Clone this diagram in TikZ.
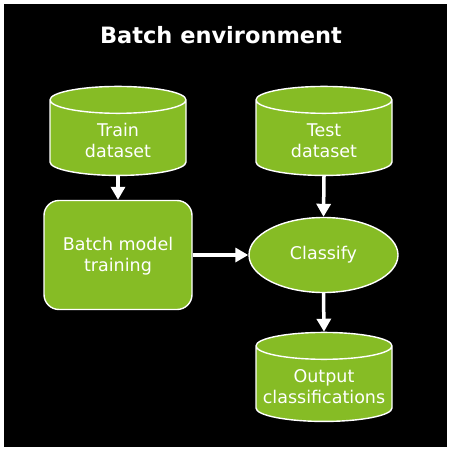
\documentclass[tikz,border=0pt]{standalone}
\usepackage{fontspec}
\setmainfont{DejaVu Sans}
\usetikzlibrary{shapes.geometric,arrows.meta}
\definecolor{batchgreen}{RGB}{134,188,37}
\newcommand\storelabel[1]{\raisebox{-5pt}[\height][\depth]{\begin{tabular}{@{}c@{}}#1\end{tabular}}}
\tikzset{
  store/.style={cylinder, shape border rotate=90, aspect=0.21, draw=white, line width=1.4pt,
    fill=batchgreen, text=white, minimum width=136pt, minimum height=89pt, inner sep=0pt,
    text width=128pt, align=center, font=\fontsize{17.5}{20.5}\selectfont},
  taskbox/.style={rectangle, rounded corners=15pt, draw=white, line width=1.4pt, fill=batchgreen,
    text=white, minimum width=148pt, minimum height=109pt, align=center,
    font=\fontsize{17.5}{20.5}\selectfont},
  taskoval/.style={ellipse, draw=white, line width=1.4pt, fill=batchgreen, text=white,
    minimum width=149pt, minimum height=75pt, inner sep=0pt, font=\fontsize{17.5}{20.5}\selectfont},
  flow/.style={draw=white, line width=3.5pt, -{Triangle[length=13pt, width=14pt]}}
}
\begin{document}
\begin{tikzpicture}[x=1pt, y=1pt]
  \fill[white] (0,0) rectangle (452,-452);
  \fill[black] (4,-4) rectangle (447,-447);
  \useasboundingbox (0,0) rectangle (452,-452);
  \node[text=white, font=\fontsize{22.5}{27}\selectfont\bfseries] (title) at (221,-35) {Batch environment};
  \node[store] (train) at (118,-138) {\storelabel{Train\\dataset}};
  \node[store] (test) at (324,-138) {\storelabel{Test\\dataset}};
  \node[taskbox] (batch) at (118,-255) {\raisebox{-2pt}[\height][\depth]{\begin{tabular}{@{}c@{}}Batch model\\training\end{tabular}}};
  \node[taskoval] (classify) at (323.5,-255) {Classify};
  \node[store] (output) at (324,-384) {\storelabel{Output\\classifications}};
  \draw[flow] (train.south) -- (batch.north);
  \draw[flow] (test.south) -- (classify.north);
  \draw[flow] (batch.east) -- (classify.west);
  \draw[flow] (classify.south) -- (output.north);
\end{tikzpicture}
\end{document}
